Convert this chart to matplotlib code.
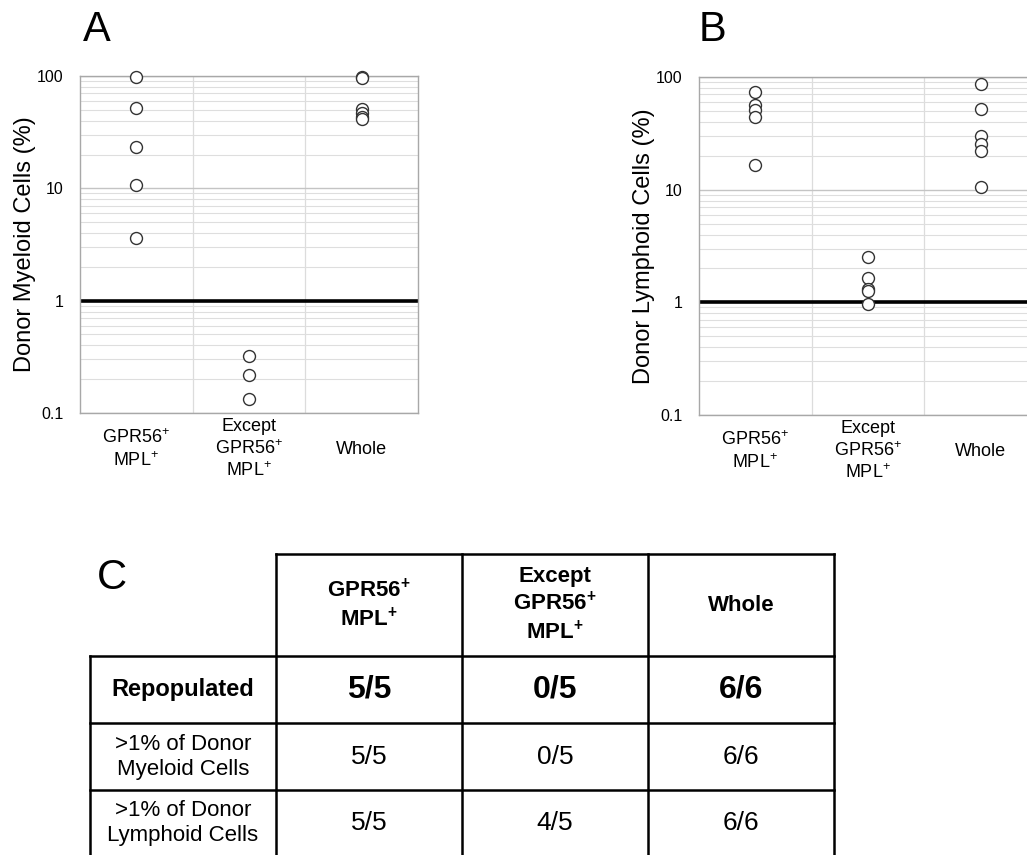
import matplotlib
matplotlib.use("Agg")
import matplotlib.pyplot as plt
from matplotlib.ticker import LogLocator, NullFormatter, FixedLocator

plt.rcParams['font.family'] = ['Liberation Sans', 'DejaVu Sans']
plt.rcParams['mathtext.fontset'] = 'custom'
plt.rcParams['mathtext.rm'] = 'Liberation Sans'
plt.rcParams['mathtext.bf'] = 'Liberation Sans:bold'
plt.rcParams['mathtext.default'] = 'regular'

# data
groups = ["GPR56$^{+}$\nMPL$^{+}$", "Except\nGPR56$^{+}$\nMPL$^{+}$", "Whole"]

myeloid_gpr = [97, 52, 23.3, 10.6, 3.6]
myeloid_except = [0.32, 0.22, 0.133]
myeloid_whole = [98, 96, 51, 47, 43, 41]

lymphoid_gpr = [73.6, 56.8, 50.6, 44.2, 16.6]
lymphoid_except = [2.54, 1.64, 1.31, 1.25, 0.97]
lymphoid_whole = [87, 51.6, 29.9, 25.6, 22.0, 10.5]

yticks = [0.1, 1, 10, 100]
ytick_labels = ["0.1", "1", "10", "100"]

col_headers = ["GPR56$^{+}$\nMPL$^{+}$", "Except\nGPR56$^{+}$\nMPL$^{+}$", "Whole"]
row_labels = ["Repopulated", ">1% of Donor\nMyeloid Cells", ">1% of Donor\nLymphoid Cells"]
table_cells = [["5/5", "0/5", "6/6"],
               ["5/5", "0/5", "6/6"],
               ["5/5", "4/5", "6/6"]]

W, H = 1027, 855
fig = plt.figure(figsize=(W / 100, H / 100), dpi=100)


def dot_panel(rect, series, ylabel):
    ax = fig.add_axes(rect)
    ax.set_yscale('log')
    ax.set_ylim(0.1, 100)
    ax.set_xlim(-0.5, 2.5)
    # grid
    ax.yaxis.set_major_locator(FixedLocator(yticks))
    ax.yaxis.set_minor_locator(LogLocator(base=10, subs=range(2, 10)))
    ax.yaxis.set_minor_formatter(NullFormatter())
    ax.set_yticklabels(ytick_labels)
    ax.grid(which='major', axis='y', color='#c4c4c4', lw=1.0)
    ax.grid(which='minor', axis='y', color='#dedede', lw=0.8)
    for xd in [0.5, 1.5]:
        ax.axvline(xd, color='#dcdcdc', lw=0.9, zorder=0)
    ax.set_axisbelow(True)
    for s in ax.spines.values():
        s.set_color('#a8a8a8')
        s.set_linewidth(1.0)
    ax.axhline(1, color='black', lw=2.6, zorder=2)
    for i, vals in enumerate(series):
        ax.plot([i] * len(vals), vals, 'o', ms=8.6, mfc='white', mec='#333333',
                mew=1.0, zorder=3, clip_on=False)
    ax.set_xticks(range(3))
    ax.set_xticklabels(groups, fontsize=13, va='center', linespacing=1.25)
    ax.tick_params(axis='x', length=0, pad=26)
    ax.tick_params(axis='y', which='both', length=0, pad=12, labelsize=11.5)
    ax.set_ylabel(ylabel, fontsize=17, va='center')
    ax.yaxis.set_label_coords(-0.162, 0.5)
    return ax


dot_panel([80 / W, 1 - 413 / H, 338 / W, 337 / H],
          [myeloid_gpr, myeloid_except, myeloid_whole], "Donor Myeloid Cells (%)")
dot_panel([699 / W, 1 - 415 / H, 338 / W, 338 / H],
          [lymphoid_gpr, lymphoid_except, lymphoid_whole], "Donor Lymphoid Cells (%)")

fig.text(97 / W, 1 - 30 / H, "A", fontsize=30, ha='center', va='center')
fig.text(712 / W, 1 - 30 / H, "B", fontsize=30, ha='center', va='center')

# table panel, drawn in pixel coordinates on an overlay axes
tx = fig.add_axes([0, 0, 1, 1])
tx.set_xlim(0, W)
tx.set_ylim(H, 0)
tx.axis('off')
tx.patch.set_alpha(0)

cx = [90, 276, 462, 648, 834]
ry = [554, 656, 723, 790, 860]
lw = 1.8
tx.plot([cx[1], cx[4]], [ry[0], ry[0]], color='black', lw=lw, solid_capstyle='projecting')
for y in ry[1:4]:
    tx.plot([cx[0], cx[4]], [y, y], color='black', lw=lw, solid_capstyle='projecting')
tx.plot([cx[0], cx[0]], [ry[1], ry[4]], color='black', lw=lw)
for x in cx[1:]:
    tx.plot([x, x], [ry[0], ry[4]], color='black', lw=lw)

tx.text(112, 578, "C", fontsize=30, ha='center', va='center')

for j, h in enumerate(col_headers):
    hb = h.replace("$^{+}$", r"$^{\mathbf{+}}$")
    tx.text((cx[j + 1] + cx[j + 2]) / 2, (ry[0] + ry[1]) / 2, hb, ha='center', va='center',
            fontsize=16, fontweight='bold', linespacing=1.3)

for i, lab in enumerate(row_labels):
    yc = (ry[i + 1] + ry[i + 2]) / 2
    if i == 2:
        yc = (ry[i + 1] + 855) / 2
    bold = i == 0
    tx.text((cx[0] + cx[1]) / 2, yc, lab, ha='center', va='center',
            fontsize=17 if bold else 16, fontweight='bold' if bold else 'normal',
            linespacing=1.25)
    for j, v in enumerate(table_cells[i]):
        tx.text((cx[j + 1] + cx[j + 2]) / 2, yc, v, ha='center', va='center',
                fontsize=23 if bold else 19, fontweight='bold' if bold else 'normal')

fig.savefig("out.png", dpi=100, facecolor='white')
